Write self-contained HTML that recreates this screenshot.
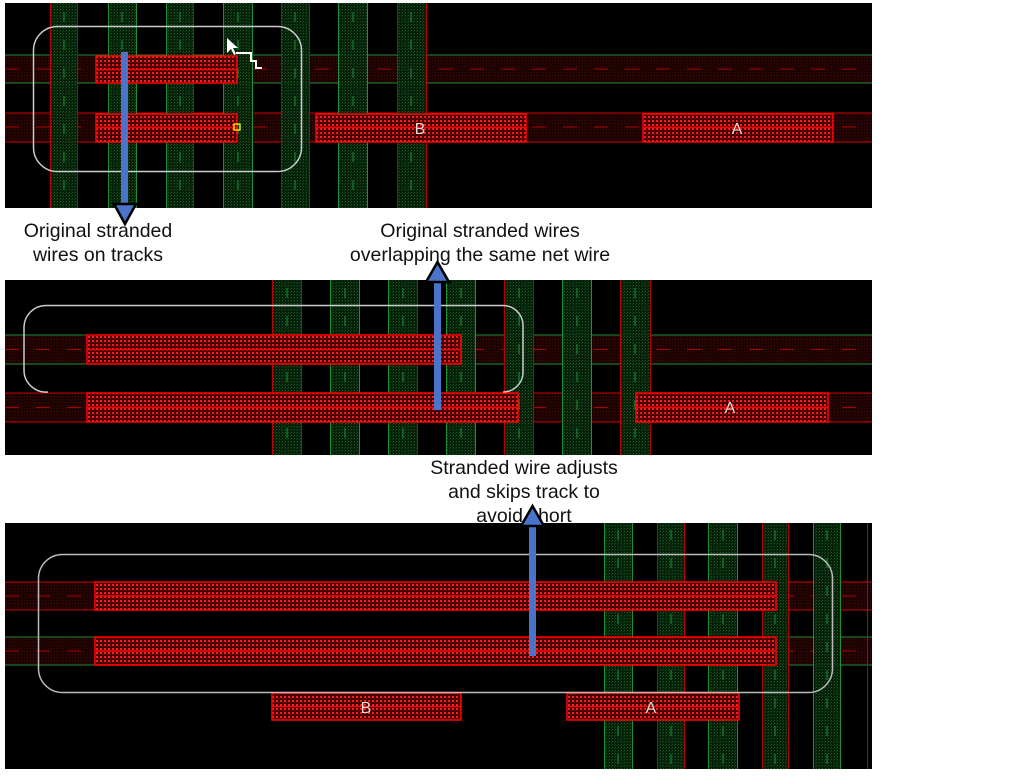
<!DOCTYPE html>
<html><head><meta charset="utf-8"><style>
html,body{margin:0;padding:0;background:#fff;width:1013px;height:776px;overflow:hidden}
.lbl{position:absolute;font-family:"Liberation Sans",sans-serif;font-size:19.5px;color:#111;text-align:center;line-height:24px;white-space:nowrap}
</style></head><body>
<svg width="1013" height="776" viewBox="0 0 1013 776" xmlns="http://www.w3.org/2000/svg" style="position:absolute;left:0;top:0">
<defs>
<pattern id="wire" width="4" height="4" patternUnits="userSpaceOnUse">
<rect width="4" height="4" fill="#3a0000"/><rect x="0" y="0" width="2" height="2" fill="#ff1a1a"/><rect x="2" y="2" width="1" height="1" fill="#990000"/>
</pattern>
<pattern id="gcol" width="3" height="3" patternUnits="userSpaceOnUse">
<rect width="3" height="3" fill="#052209"/><rect width="1" height="1" fill="#1a6a2a"/><rect x="2" y="1" width="1" height="1" fill="#0f4a1c"/>
</pattern>
<pattern id="rband" width="3" height="3" patternUnits="userSpaceOnUse">
<rect width="3" height="3" fill="#180202"/><rect width="1" height="1" fill="#4a0707"/><rect x="2" y="1" width="1" height="1" fill="#300404"/>
</pattern>
</defs>

<!-- PANEL 1 -->
<rect x="5" y="3" width="867" height="205" fill="#000"/>
<g>
<rect x="5" y="55" width="867" height="28" fill="url(#rband)"/>
<line x1="5" y1="55" x2="872" y2="55" stroke="#1d8a34"/><line x1="5" y1="83" x2="872" y2="83" stroke="#1d8a34"/>
<line x1="5" y1="69" x2="872" y2="69" stroke="#a00" stroke-dasharray="14 17"/>
<rect x="5" y="113" width="867" height="29" fill="url(#rband)"/>
<line x1="5" y1="113" x2="872" y2="113" stroke="#c00"/><line x1="5" y1="142" x2="872" y2="142" stroke="#c00"/>
<line x1="5" y1="127" x2="872" y2="127" stroke="#a00" stroke-dasharray="14 17"/>
</g>
<g opacity="0.9">
<rect x="50" y="3" width="28" height="205" fill="url(#gcol)"/><line x1="50.5" y1="3" x2="50.5" y2="208" stroke="#c00"/><line x1="77.5" y1="3" x2="77.5" y2="208" stroke="#c00"/>
<rect x="108" y="3" width="29" height="205" fill="url(#gcol)"/><line x1="108.5" y1="3" x2="108.5" y2="208" stroke="#1fa040"/><line x1="136.5" y1="3" x2="136.5" y2="208" stroke="#1fa040"/>
<rect x="166" y="3" width="28" height="205" fill="url(#gcol)"/><line x1="166.5" y1="3" x2="166.5" y2="208" stroke="#1fa040"/><line x1="193.5" y1="3" x2="193.5" y2="208" stroke="#c00"/>
<rect x="223" y="3" width="30" height="205" fill="url(#gcol)"/><line x1="223.5" y1="3" x2="223.5" y2="208" stroke="#1fa040"/><line x1="252.5" y1="3" x2="252.5" y2="208" stroke="#1fa040"/>
<rect x="281" y="3" width="29" height="205" fill="url(#gcol)"/><line x1="281.5" y1="3" x2="281.5" y2="208" stroke="#c00"/><line x1="309.5" y1="3" x2="309.5" y2="208" stroke="#c00"/>
<rect x="338" y="3" width="30" height="205" fill="url(#gcol)"/><line x1="338.5" y1="3" x2="338.5" y2="208" stroke="#1fa040"/><line x1="367.5" y1="3" x2="367.5" y2="208" stroke="#1fa040"/>
<rect x="397" y="3" width="30" height="205" fill="url(#gcol)"/><line x1="397.5" y1="3" x2="397.5" y2="208" stroke="#c00"/><line x1="426.5" y1="3" x2="426.5" y2="208" stroke="#c00"/>
<g stroke="#1fa040" stroke-dasharray="10 18">
<line x1="64" y1="12" x2="64" y2="208"/><line x1="122" y1="12" x2="122" y2="208"/><line x1="180" y1="12" x2="180" y2="208"/><line x1="238" y1="12" x2="238" y2="208"/><line x1="295" y1="12" x2="295" y2="208"/><line x1="353" y1="12" x2="353" y2="208"/><line x1="411" y1="12" x2="411" y2="208"/>
</g></g>
<g stroke="#f00" stroke-width="1.5">
<rect x="96" y="56" width="141" height="27" fill="url(#wire)"/><line x1="96" y1="69.5" x2="237" y2="69.5"/>
<rect x="96" y="114" width="141" height="28" fill="url(#wire)"/><line x1="96" y1="127.5" x2="237" y2="127.5"/>
<rect x="316" y="114" width="210" height="28" fill="url(#wire)"/><line x1="316" y1="127.5" x2="526" y2="127.5"/>
<rect x="643" y="114" width="190" height="28" fill="url(#wire)"/><line x1="643" y1="127.5" x2="833" y2="127.5"/>
</g>
<text x="420" y="134" fill="#ddd" font-family="Liberation Sans" font-size="16" text-anchor="middle">B</text>
<text x="737" y="134" fill="#ddd" font-family="Liberation Sans" font-size="16" text-anchor="middle">A</text>
<rect x="33.5" y="26.5" width="268" height="145" rx="24" fill="none" stroke="#ccc" stroke-width="1.5"/>
<rect x="234" y="124" width="6" height="6" fill="none" stroke="#ff0" stroke-width="1.3"/>
<polygon points="227,38 227,53 231,49 234,55 236,54 233,48 238,48" fill="#fff"/>
<polyline points="236,53 251,53 251,61 256,61 256,68 262,68" fill="none" stroke="#fff" stroke-width="2"/>

<!-- PANEL 2 -->
<rect x="5" y="280" width="867" height="175" fill="#000"/>
<rect x="5" y="335" width="867" height="29" fill="url(#rband)"/>
<line x1="5" y1="335" x2="872" y2="335" stroke="#1d8a34"/><line x1="5" y1="364" x2="872" y2="364" stroke="#1d8a34"/>
<line x1="5" y1="349.5" x2="872" y2="349.5" stroke="#a00" stroke-dasharray="14 17"/>
<rect x="5" y="393" width="867" height="29" fill="url(#rband)"/>
<line x1="5" y1="393" x2="872" y2="393" stroke="#c00"/><line x1="5" y1="422" x2="872" y2="422" stroke="#c00"/>
<line x1="5" y1="407.5" x2="872" y2="407.5" stroke="#a00" stroke-dasharray="14 17"/>
<g opacity="0.9">
<rect x="272" y="280" width="30" height="175" fill="url(#gcol)"/><line x1="272.5" y1="280" x2="272.5" y2="455" stroke="#c00"/><line x1="301.5" y1="280" x2="301.5" y2="455" stroke="#c00"/>
<rect x="330" y="280" width="30" height="175" fill="url(#gcol)"/><line x1="330.5" y1="280" x2="330.5" y2="455" stroke="#1fa040"/><line x1="359.5" y1="280" x2="359.5" y2="455" stroke="#1fa040"/>
<rect x="388" y="280" width="30" height="175" fill="url(#gcol)"/><line x1="388.5" y1="280" x2="388.5" y2="455" stroke="#1fa040"/><line x1="417.5" y1="280" x2="417.5" y2="455" stroke="#c00"/>
<rect x="446" y="280" width="30" height="175" fill="url(#gcol)"/><line x1="446.5" y1="280" x2="446.5" y2="455" stroke="#1fa040"/><line x1="475.5" y1="280" x2="475.5" y2="455" stroke="#1fa040"/>
<rect x="504" y="280" width="30" height="175" fill="url(#gcol)"/><line x1="504.5" y1="280" x2="504.5" y2="455" stroke="#c00"/><line x1="533.5" y1="280" x2="533.5" y2="455" stroke="#c00"/>
<rect x="562" y="280" width="30" height="175" fill="url(#gcol)"/><line x1="562.5" y1="280" x2="562.5" y2="455" stroke="#1fa040"/><line x1="591.5" y1="280" x2="591.5" y2="455" stroke="#1fa040"/>
<rect x="620" y="280" width="31" height="175" fill="url(#gcol)"/><line x1="620.5" y1="280" x2="620.5" y2="455" stroke="#c00"/><line x1="650.5" y1="280" x2="650.5" y2="455" stroke="#c00"/>
<g stroke="#1fa040" stroke-dasharray="10 18">
<line x1="287" y1="288" x2="287" y2="455"/><line x1="345" y1="288" x2="345" y2="455"/><line x1="403" y1="288" x2="403" y2="455"/><line x1="461" y1="288" x2="461" y2="455"/><line x1="519" y1="288" x2="519" y2="455"/><line x1="577" y1="288" x2="577" y2="455"/><line x1="635" y1="288" x2="635" y2="455"/>
</g></g>
<g stroke="#f00" stroke-width="1.5">
<rect x="87" y="335" width="374" height="29" fill="url(#wire)"/><line x1="87" y1="349.5" x2="461" y2="349.5"/>
<rect x="87" y="393" width="431" height="29" fill="url(#wire)"/><line x1="87" y1="407.5" x2="518" y2="407.5"/>
<rect x="636" y="393" width="192" height="29" fill="url(#wire)"/><line x1="636" y1="407.5" x2="828" y2="407.5"/>
</g>
<text x="730" y="413" fill="#ddd" font-family="Liberation Sans" font-size="16" text-anchor="middle">A</text>
<path d="M48,392 A22,22 0 0 1 24,370 L24,327 A22,22 0 0 1 46,305.5 L503,305.5 A20,20 0 0 1 523,325 L523,373 A20,20 0 0 1 503,392" fill="none" stroke="#ccc" stroke-width="1.5"/>

<!-- PANEL 3 -->
<rect x="5" y="523" width="867" height="246" fill="#000"/>
<rect x="5" y="582" width="867" height="28" fill="url(#rband)"/>
<line x1="5" y1="582" x2="872" y2="582" stroke="#c00"/><line x1="5" y1="610" x2="872" y2="610" stroke="#c00"/>
<line x1="5" y1="596" x2="872" y2="596" stroke="#a00" stroke-dasharray="14 17"/>
<rect x="5" y="637" width="867" height="28" fill="url(#rband)"/>
<line x1="5" y1="637" x2="872" y2="637" stroke="#1d8a34"/><line x1="5" y1="665" x2="872" y2="665" stroke="#1d8a34"/>
<line x1="5" y1="651" x2="872" y2="651" stroke="#a00" stroke-dasharray="14 17"/>
<g opacity="0.9">
<rect x="604" y="523" width="29" height="246" fill="url(#gcol)"/><line x1="604.5" y1="523" x2="604.5" y2="769" stroke="#1fa040"/><line x1="632.5" y1="523" x2="632.5" y2="769" stroke="#1fa040"/>
<rect x="657" y="523" width="28" height="246" fill="url(#gcol)"/><line x1="657.5" y1="523" x2="657.5" y2="769" stroke="#c00"/><line x1="684.5" y1="523" x2="684.5" y2="769" stroke="#c00"/>
<rect x="708" y="523" width="30" height="246" fill="url(#gcol)"/><line x1="708.5" y1="523" x2="708.5" y2="769" stroke="#1fa040"/><line x1="737.5" y1="523" x2="737.5" y2="769" stroke="#1fa040"/>
<rect x="762" y="523" width="27" height="246" fill="url(#gcol)"/><line x1="762.5" y1="523" x2="762.5" y2="769" stroke="#c00"/><line x1="788.5" y1="523" x2="788.5" y2="769" stroke="#c00"/>
<rect x="813" y="523" width="28" height="246" fill="url(#gcol)"/><line x1="813.5" y1="523" x2="813.5" y2="769" stroke="#1fa040"/><line x1="840.5" y1="523" x2="840.5" y2="769" stroke="#1fa040"/>
<line x1="867.5" y1="523" x2="867.5" y2="769" stroke="#c00"/>
<g stroke="#1fa040" stroke-dasharray="10 18">
<line x1="618" y1="530" x2="618" y2="769"/><line x1="671" y1="530" x2="671" y2="769"/><line x1="723" y1="530" x2="723" y2="769"/><line x1="775" y1="530" x2="775" y2="769"/><line x1="827" y1="530" x2="827" y2="769"/>
</g></g>
<g stroke="#f00" stroke-width="1.5">
<rect x="95" y="582" width="681" height="28" fill="url(#wire)"/><line x1="95" y1="596" x2="776" y2="596"/>
<rect x="95" y="637" width="681" height="28" fill="url(#wire)"/><line x1="95" y1="651" x2="776" y2="651"/>
<rect x="272" y="693" width="189" height="27" fill="url(#wire)"/><line x1="272" y1="706.5" x2="461" y2="706.5"/>
<rect x="567" y="693" width="172" height="27" fill="url(#wire)"/><line x1="567" y1="706.5" x2="739" y2="706.5"/>
</g>
<text x="366" y="713" fill="#ddd" font-family="Liberation Sans" font-size="16" text-anchor="middle">B</text>
<text x="651" y="713" fill="#ddd" font-family="Liberation Sans" font-size="16" text-anchor="middle">A</text>
<rect x="38.5" y="554.5" width="794" height="138" rx="24" fill="none" stroke="#bbb" stroke-width="1.5"/>
</svg>
<div class="lbl" style="left:8px;top:219px;width:180px">Original stranded<br>wires on tracks</div>
<div class="lbl" style="left:320px;top:219px;width:320px">Original stranded wires<br>overlapping the same net wire</div>
<div class="lbl" style="left:394px;top:456px;width:260px">Stranded wire adjusts<br>and skips track to<br>avoid short</div>
<svg width="1013" height="776" style="position:absolute;left:0;top:0;pointer-events:none">
<rect x="121" y="52" width="7" height="155" fill="#4a74c9"/>
<polygon points="114,204 136,204 125,224" fill="#4a74c9" stroke="#000" stroke-width="2.5"/>
<rect x="434" y="278" width="7" height="132" fill="#4a74c9"/>
<polygon points="426,282 449,282 437.5,262" fill="#4a74c9" stroke="#000" stroke-width="2.5"/>
<rect x="529" y="522" width="7" height="134" fill="#4a74c9"/>
<polygon points="521,526 544,526 532.5,506" fill="#4a74c9" stroke="#000" stroke-width="2.5"/>
</svg>
</body></html>
